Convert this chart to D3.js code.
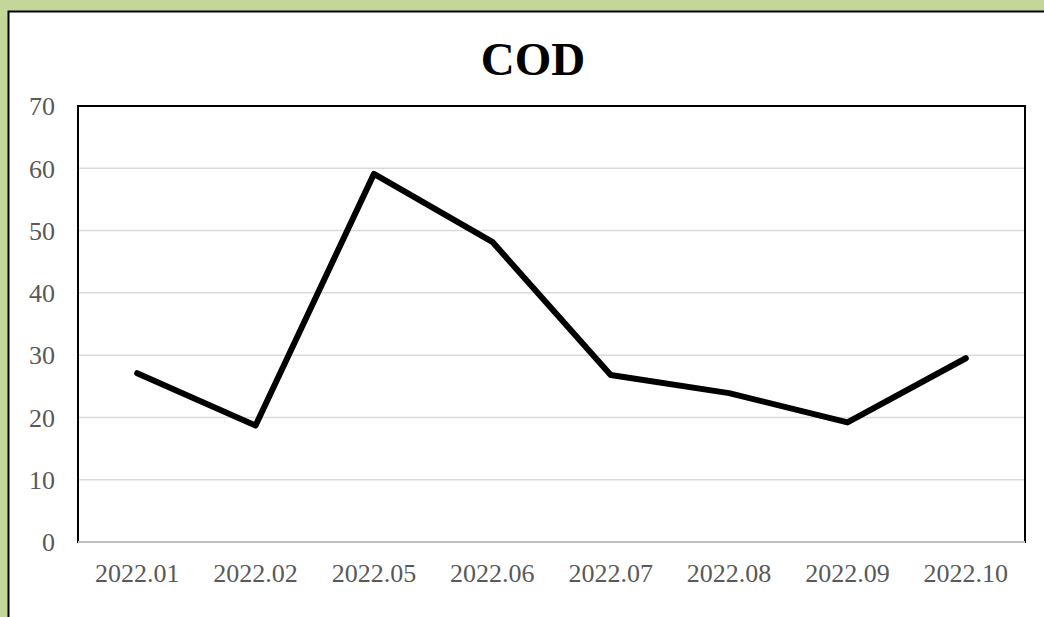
<!DOCTYPE html>
<html>
<head>
<meta charset="utf-8">
<script src="https://cdn.jsdelivr.net/npm/d3@7"></script>
<style>
  html, body { margin: 0; padding: 0; background: #c4d79b; overflow: hidden; }
  svg { display: block; }
</style>
</head>
<body>
<script>
// Monthly COD readings
const categories = ["2022.01", "2022.02", "2022.05", "2022.06", "2022.07", "2022.08", "2022.09", "2022.10"];
const codValues = [27.1, 18.7, 59.1, 48.2, 26.8, 23.9, 19.2, 29.5];
const yTicks = [0, 10, 20, 30, 40, 50, 60, 70];
const chartTitle = "COD";

const W = 1044, H = 617;
const plot = { left: 78, right: 1025, top: 106, bottom: 542 };

const svg = d3.select("body").append("svg")
  .attr("width", W).attr("height", H);

// green page background with white chart sheet
svg.append("rect").attr("x", 0).attr("y", 0).attr("width", W).attr("height", H)
  .attr("fill", "#c4d79b");
svg.append("rect").attr("x", 8.5).attr("y", 11.5).attr("width", W + 10).attr("height", H + 10)
  .attr("fill", "#ffffff").attr("stroke", "#000").attr("stroke-width", 2);

const x = d3.scaleBand().domain(categories).range([plot.left, plot.right]);
const y = d3.scaleLinear().domain([0, 70]).range([plot.bottom, plot.top]);

// horizontal gridlines
svg.append("g")
  .selectAll("line").data(yTicks.filter(t => t > 0 && t < 70)).join("line")
  .attr("x1", plot.left).attr("x2", plot.right)
  .attr("y1", d => y(d)).attr("y2", d => y(d))
  .attr("stroke", "#d9d9d9").attr("stroke-width", 1.5);

// plot frame
svg.append("rect")
  .attr("x", plot.left).attr("y", plot.top)
  .attr("width", plot.right - plot.left).attr("height", plot.bottom - plot.top)
  .attr("fill", "none").attr("stroke", "#000").attr("stroke-width", 2);

// category axis line
svg.append("line")
  .attr("x1", plot.left).attr("x2", plot.right)
  .attr("y1", y(0)).attr("y2", y(0))
  .attr("stroke", "#bfbfbf").attr("stroke-width", 2);

// y axis labels
const yAxis = d3.axisLeft(y).tickValues(yTicks).tickSize(0).tickPadding(0);
const gy = svg.append("g").attr("transform", `translate(${plot.left - 23},0)`).call(yAxis);
gy.select(".domain").remove();
gy.selectAll("text")
  .attr("font-family", "'Liberation Serif', 'Times New Roman', serif")
  .attr("font-size", 26).attr("fill", "#595959").attr("dy", "0.34em");

// x axis labels
const xAxis = d3.axisBottom(x).tickSize(0).tickPadding(0);
const gx = svg.append("g").attr("transform", `translate(0,${plot.bottom + 22})`).call(xAxis);
gx.select(".domain").remove();
gx.selectAll("text")
  .attr("font-family", "'Liberation Serif', 'Times New Roman', serif")
  .attr("font-size", 26).attr("fill", "#595959").attr("dy", "0.7em");

// data line
const line = d3.line()
  .x((d, i) => x(categories[i]) + x.bandwidth() / 2)
  .y(d => y(d));
svg.append("path").datum(codValues)
  .attr("d", line)
  .attr("fill", "none").attr("stroke", "#000").attr("stroke-width", 6)
  .attr("stroke-linejoin", "round").attr("stroke-linecap", "round");

// title
svg.append("text")
  .attr("x", 533).attr("y", 75)
  .attr("text-anchor", "middle")
  .attr("font-family", "'Liberation Serif', 'Times New Roman', serif")
  .attr("font-weight", "bold").attr("font-size", 47)
  .attr("fill", "#000")
  .text(chartTitle);
</script>
</body>
</html>
